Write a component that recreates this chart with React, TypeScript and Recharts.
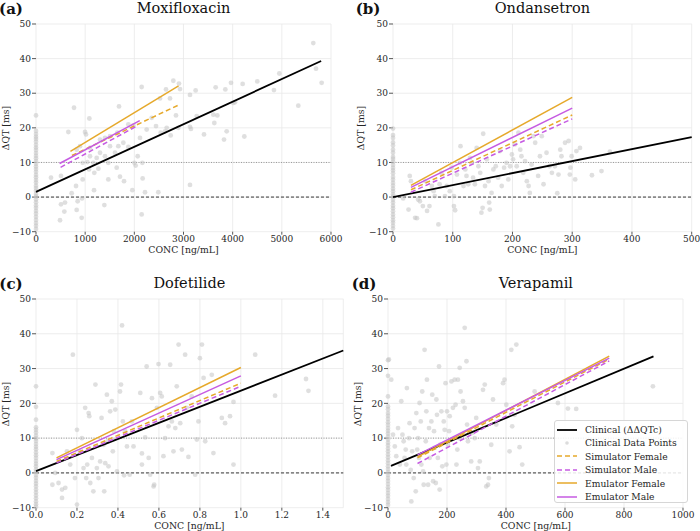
import React from "react";
import {
  ScatterChart,
  Scatter,
  XAxis,
  YAxis,
  CartesianGrid,
  ReferenceLine,
} from "recharts";

type Pt = [number, number];
type Fit = [string, number, number, number, number];

// ---- data ----
const yTicks = [-10, 0, 10, 20, 30, 40, 50];
const thresholds = [0, 10];

const moxiTicks = [0, 1000, 2000, 3000, 4000, 5000, 6000];
const ondTicks = [0, 100, 200, 300, 400, 500];
const dofTicks = [0, 0.2, 0.4, 0.6, 0.8, 1.0, 1.2, 1.4];
const verTicks = [0, 200, 400, 600, 800, 1000];

// placebo / zero-concentration observations (x = 0)
const moxiPlacebo = [23.6, 19.1, 18.2, 17.4, 16.8, 16.0, 15.1, 14.3, 13.6, 12.7, 11.9, 11.2, 10.4, 9.6, 8.8, 8.1, 7.3, 6.4, 5.7, 4.9, 4.2, 3.3, 2.6, 1.8, 0.9, 0.2, -0.7, -1.5, -2.4, -3.1, -4.0, -4.8, -5.7, -6.6, -7.5, -8.3, -9.2];
const ondPlacebo = [19.8, 17.9, 17.1, 15.8, 14.9, 13.7, 12.8, 11.6, 11.0, 10.2, 9.3, 8.4, 7.7, 6.9, 5.8, 5.0, 4.1, 3.3, 2.4, 1.7, 0.8, 0.1, -0.8, -1.6, -2.5, -3.2, -4.1, -5.0, -5.8, -6.7, -7.4, -8.3, -9.1];
const dofPlacebo = [24.9, 19.0, 15.3, 13.1, 12.4, 11.6, 10.7, 9.9, 9.2, 8.3, 7.5, 6.8, 5.9, 5.1, 4.3, 3.4, 2.6, 1.9, 1.0, 0.3, -0.6, -1.4, -2.3, -3.1, -3.9, -4.8, -5.6, -6.5, -7.3, -8.2, -9.0, -9.7];
const verPlacebo = [32.4, 27.9, 22.0, 19.1, 18.3, 17.2, 16.4, 15.5, 14.6, 13.8, 12.9, 12.1, 11.3, 10.4, 9.6, 8.7, 7.9, 7.0, 6.2, 5.3, 4.5, 3.6, 2.8, 1.9, 1.1, 0.2, -0.6, -1.5, -2.3, -3.2, -4.1, -4.9, -5.8, -6.6, -7.5, -8.4, -9.2];

const moxiPoints: Pt[] = [
  [773, 25.8], [658, 18.8], [1085, 22.7], [997, 18.8], [1017, 18.1], [1688, 26.2], [2149, 31.8],
  [2793, 33.6], [2908, 32.8], [2644, 31.1], [2725, 28.5], [2522, 28.5], [2847, 23.6], [3268, 23.4],
  [3247, 30.8], [3132, 29.5], [2929, 31.2], [3132, 20.3], [3152, 19.7], [3417, 18.1], [3607, 23.8],
  [3627, 21.4], [3654, 31.7], [3688, 23.6], [3851, 31.1], [3824, 16.6], [3878, 19.0], [3966, 33.0],
  [4013, 27.2], [4047, 27.4], [4203, 32.7], [4237, 17.5], [4501, 33.4], [4840, 30.9], [4949, 35.7],
  [5335, 26.4], [5640, 44.5], [5695, 37.1], [5810, 33.0], [3132, 3.5], [2217, 1.4], [2488, 1.4],
  [2149, -5.0], [1959, 2.0], [2169, 5.4], [2027, 9.1], [2000, 9.9], [2163, 9.9], [2068, 11.8],
  [1790, 4.6], [1708, 5.9], [1471, 5.1], [1390, -2.3], [1268, 8.2], [1180, 2.0], [1186, 7.0],
  [1078, 8.0], [949, 5.1], [929, -6.0], [936, -0.4], [827, -3.7], [847, -1.2], [725, 1.1],
  [814, 3.2], [590, -1.6], [576, -4.2], [508, -2.1], [488, -6.7], [305, 5.6], [508, 6.1],
  [1044, 10.1], [1098, 11.8], [1234, 11.3], [1302, 12.8], [1403, 11.8], [1505, 14.7], [1607, 12.8],
  [1675, 14.7], [1776, 15.7], [1878, 14.5], [1302, 16.6], [1403, 17.1], [1505, 17.6], [1654, 18.6],
  [1878, 21.0], [1980, 20.7], [2353, 22.9], [2441, 20.5], [2536, 18.6], [2624, 19.0], [2658, 20.0],
  [2739, 17.8], [2895, 20.0], [2251, 19.5], [827, 13.7], [895, 14.7], [1098, 14.2], [1166, 9.9],
  [1471, 9.9], [1641, 8.5], [949, 9.9], [2115, 17.1],
];

const ondPoints: Pt[] = [
  [17, -0.4], [26, -3.6], [28, 6.1], [30, 4.6], [37, -6.0], [40, -6.1], [42, -0.7], [45, -1.2],
  [50, -2.6], [54, 4.6], [57, -4.0], [61, -2.6], [65, 3.2], [68, 1.7], [70, 0.3], [76, -7.9],
  [78, 3.7], [81, 7.0], [87, 0.3], [90, 3.2], [95, 1.7], [98, 8.5], [102, 0.3], [102, -2.6],
  [104, -3.8], [107, 6.5], [112, 9.9], [113, 14.7], [118, 3.2], [121, 8.0], [123, 6.1], [126, 3.7],
  [129, 11.3], [132, 9.9], [134, 5.6], [137, 3.7], [140, 14.2], [143, 8.9], [146, 7.0], [148, -4.5],
  [151, 18.3], [150, -3.1], [154, 3.2], [157, 10.9], [160, 4.6], [161, -1.6], [162, -3.6], [165, 1.2],
  [168, 8.0], [172, 8.9], [176, 5.6], [179, 13.3], [182, 3.2], [186, 8.5], [190, 9.9], [193, 5.1],
  [196, 8.9], [199, 12.3], [201, 10.9], [204, 15.2], [207, 8.9], [210, 18.6], [213, 13.7], [215, 11.8],
  [218, 7.0], [221, 10.4], [224, 4.6], [227, 3.2], [229, 1.2], [232, 9.4], [235, 17.6], [238, 15.7],
  [243, 6.1], [246, 11.8], [249, 17.6], [252, 3.7], [257, 12.8], [262, 8.9], [266, 7.0], [271, 8.9],
  [275, 1.1], [277, 6.5], [280, 13.7], [282, 11.8], [288, 15.7], [294, 16.2], [296, 6.5], [297, 8.5],
  [299, 11.8], [305, 5.1], [313, 14.2], [307, 13.3], [333, 6.3], [349, 7.5], [363, 13.1],
];

const dofPoints: Pt[] = [
  [0.08, 5.7], [0.08, -3.4], [0.094, 0.0], [0.11, -2.9], [0.127, -7.2], [0.127, -4.8], [0.143, -4.3],
  [0.151, 6.2], [0.167, 2.4], [0.18, 34.0], [0.19, -1.5], [0.2, -9.1], [0.2, 12.4], [0.216, 6.2],
  [0.224, 10.0], [0.232, 1.4], [0.24, 18.7], [0.245, -1.5], [0.25, 2.4], [0.257, 17.2], [0.26, 16.3],
  [0.265, -2.9], [0.273, 4.3], [0.28, -5.3], [0.29, 25.4], [0.297, 1.4], [0.305, -1.5], [0.313, 3.3],
  [0.32, 15.8], [0.33, 8.1], [0.333, -5.3], [0.338, 2.8], [0.346, 22.5], [0.35, 9.1], [0.354, 1.9],
  [0.362, 17.7], [0.37, 20.6], [0.375, 6.2], [0.38, 12.0], [0.387, 18.2], [0.395, 0.4], [0.42, 42.4],
  [0.41, 23.4], [0.415, 25.4], [0.424, 14.8], [0.43, -0.7], [0.435, 12.0], [0.444, 7.6], [0.457, -0.5],
  [0.468, 14.8], [0.476, 7.6], [0.509, 23.0], [0.517, 5.6], [0.517, 2.4], [0.533, 10.2], [0.54, 30.6],
  [0.55, 4.3], [0.557, -0.5], [0.566, 21.5], [0.574, -3.9], [0.577, -3.4], [0.59, 18.7], [0.598, 31.3],
  [0.606, 23.0], [0.614, 22.0], [0.622, 4.8], [0.63, 10.0], [0.647, 13.4], [0.655, 31.1], [0.663, 14.8],
  [0.671, 6.2], [0.68, 12.9], [0.687, 24.9], [0.696, 36.9], [0.704, 14.3], [0.712, 6.7], [0.728, 34.0],
  [0.736, 18.7], [0.744, 4.6], [0.76, 22.0], [0.777, -0.5], [0.785, 9.6], [0.793, 14.8], [0.8, 33.0],
  [0.81, 36.9], [0.818, 27.3], [0.826, 9.1], [0.858, 28.2], [0.866, 5.7], [0.907, 15.8], [0.923, 14.3],
  [0.947, 16.3], [0.964, 20.4], [1.07, 34.0], [1.167, 22.2], [1.318, 27.0], [1.33, 23.6], [0.964, 2.4],
];

const verPoints: Pt[] = [
  [3, 32.6], [11, 26.8], [17, 11.0], [23, 7.6], [28, 4.8], [34, 12.9], [40, 2.4], [45, 20.6],
  [49, 11.0], [53, 9.1], [56, 4.3], [60, 6.7], [62, 2.4], [64, 24.4], [71, 10.0], [73, 14.3],
  [77, 0.9], [79, -8.2], [82, 6.2], [87, -1.5], [90, 12.9], [94, -5.3], [96, 17.2], [99, 6.7],
  [102, 10.0], [105, 4.3], [107, 20.1], [111, 14.8], [113, 2.4], [116, 23.4], [119, 0.4], [121, -3.4],
  [124, 35.4], [128, 9.1], [130, 17.7], [132, 26.8], [136, -3.4], [139, 12.9], [141, 4.3], [147, 14.8],
  [150, 22.5], [153, -2.4], [156, 12.0], [158, 7.2], [162, -2.9], [164, 21.1], [166, 16.7], [169, 4.3],
  [173, 30.6], [175, -4.8], [177, 8.1], [181, 17.7], [184, 1.9], [189, 14.8], [192, 12.4], [195, 25.8],
  [198, 2.4], [200, 17.7], [203, 8.1], [207, 12.0], [209, 16.3], [215, 26.3], [220, 18.7], [226, 26.8],
  [229, 19.6], [232, 2.4], [235, 6.7], [237, 26.8], [241, 10.0], [243, 30.2], [246, 23.4], [254, 20.6],
  [260, 18.7], [266, 32.1], [260, 41.7], [268, 13.9], [271, 9.1], [282, 3.3], [286, 11.5], [294, 10.0],
  [299, 15.8], [305, 1.4], [311, 3.3], [322, 23.9], [328, 25.4], [333, -3.9], [339, -3.4], [342, -1.5],
  [350, 8.1], [356, 21.1], [367, 13.9], [390, 25.8], [395, 26.8], [412, 6.2], [418, 35.4], [421, 13.4],
  [435, 36.9], [446, 7.4], [455, 2.4], [497, 23.4], [576, 20.1], [610, 18.5], [638, 18.4], [898, 24.9],
  [429, 16.7], [401, 19.6],
];

// linear fits: series, x start, y start, x end, y end
const moxiFits: Fit[] = [
  ["clinical", 0, 1.5, 5800, 39.3],
  ["simF", 730, 12.0, 2900, 26.6],
  ["simM", 500, 8.6, 2050, 20.5],
  ["emuF", 700, 13.2, 2900, 32.1],
  ["emuM", 480, 9.7, 2110, 22.1],
];
const ondFits: Fit[] = [
  ["clinical", 0, 0.0, 500, 17.3],
  ["simF", 30, 2.1, 300, 23.7],
  ["simM", 30, 1.4, 300, 22.6],
  ["emuF", 30, 3.4, 300, 28.8],
  ["emuM", 30, 2.8, 300, 25.7],
];
const dofFits: Fit[] = [
  ["clinical", 0, 0.5, 1.5, 35.2],
  ["simF", 0.1, 3.3, 1.0, 25.8],
  ["simM", 0.1, 2.9, 1.0, 24.9],
  ["emuF", 0.1, 4.3, 1.0, 30.3],
  ["emuM", 0.1, 3.8, 1.0, 27.9],
];
const verFits: Fit[] = [
  ["clinical", 10, 2.0, 900, 33.5],
  ["simF", 100, 4.3, 750, 32.7],
  ["simM", 100, 2.7, 750, 32.2],
  ["emuF", 100, 4.6, 750, 33.6],
  ["emuM", 100, 5.2, 750, 33.0],
];

// ---- styling ----
const ORANGE = "#E6A92B";
const PURPLE = "#C65BE2";
const FONT = '"DejaVu Serif", serif';
const INK = "#262626";

const seriesStyle: Record<string, { label: string; stroke: string; width: number; dash?: string }> = {
  clinical: { label: "Clinical (ΔΔQTc)", stroke: "#000000", width: 1.8 },
  simF: { label: "Simulator Female", stroke: ORANGE, width: 1.5, dash: "5 3" },
  simM: { label: "Simulator Male", stroke: PURPLE, width: 1.5, dash: "5 3" },
  emuF: { label: "Emulator Female", stroke: ORANGE, width: 1.5 },
  emuM: { label: "Emulator Male", stroke: PURPLE, width: 1.5 },
};

interface PanelDef {
  tag: string;
  title: string;
  plot: { left: number; top: number; right: number; bottom: number };
  xMax: number;
  xTicks: number[];
  xFmt: (v: number) => string;
  placebo: number[];
  points: Pt[];
  fits: Fit[];
  yLabelX: number;
  tagX: number;
  legend?: boolean;
}

const intFmt = (v: number) => String(v);
const panels: PanelDef[] = [
  { tag: "(a)", title: "Moxifloxacin", plot: { left: 36, top: 24.3, right: 331, bottom: 232 }, xMax: 6000, xTicks: moxiTicks, xFmt: intFmt, placebo: moxiPlacebo, points: moxiPoints, fits: moxiFits, yLabelX: 6, tagX: 11 },
  { tag: "(b)", title: "Ondansetron", plot: { left: 393, top: 24.3, right: 691.7, bottom: 232 }, xMax: 500, xTicks: ondTicks, xFmt: intFmt, placebo: ondPlacebo, points: ondPoints, fits: ondFits, yLabelX: 361, tagX: 368 },
  { tag: "(c)", title: "Dofetilide", plot: { left: 35.7, top: 299.3, right: 343, bottom: 508 }, xMax: 1.5, xTicks: dofTicks, xFmt: (v) => v.toFixed(1), placebo: dofPlacebo, points: dofPoints, fits: dofFits, yLabelX: 6, tagX: 11 },
  { tag: "(d)", title: "Verapamil", plot: { left: 388.3, top: 299.3, right: 683.3, bottom: 508 }, xMax: 1000, xTicks: verTicks, xFmt: intFmt, placebo: verPlacebo, points: verPoints, fits: verFits, yLabelX: 358, tagX: 364, legend: true },
];

const minus = (s: string) => s.replace("-", "\u2212");

const Dot = (p: any) => (
  <circle cx={p.cx} cy={p.cy} r={2.4} fill="#c4c4c4" fillOpacity={0.55} />
);
const NoMark = () => <g />;

const Y_W = 34;
const X_H = 20;
const M_TOP = 6;
const M_RIGHT = 16;

function Panel({ def }: { def: PanelDef }) {
  const { plot } = def;
  const pw = plot.right - plot.left;
  const ph = plot.bottom - plot.top;
  const dots = [
    ...def.placebo.map((y) => ({ x: 0, y })),
    ...def.points.map(([x, y]) => ({ x, y })),
  ];
  const cx = (plot.left + plot.right) / 2;
  const cy = (plot.top + plot.bottom) / 2;
  const tickStyle = { fontFamily: FONT, fontSize: 9, fill: INK };
  // keep the chart box inside the 700px figure
  const rightRoom = Math.min(M_RIGHT, 700 - plot.right);

  return (
    <>
      <div style={{ position: "absolute", left: plot.left - Y_W, top: plot.top - M_TOP }}>
        <ScatterChart
          width={pw + Y_W + rightRoom}
          height={ph + M_TOP + X_H}
          margin={{ top: M_TOP, right: rightRoom, bottom: 0, left: 0 }}
          style={{ overflow: "visible" }}
        >
          <CartesianGrid stroke="#e9e9e9" strokeWidth={0.8} />
          <XAxis
            type="number"
            dataKey="x"
            domain={[0, def.xMax]}
            ticks={def.xTicks}
            tickFormatter={def.xFmt}
            interval={0}
            height={X_H}
            axisLine={false}
            tickSize={3}
            tickMargin={1}
            tickLine={{ stroke: "#555" }}
            tick={tickStyle}
          />
          <YAxis
            type="number"
            dataKey="y"
            domain={[-10, 50]}
            ticks={yTicks}
            tickFormatter={(v: number) => minus(String(v))}
            interval={0}
            width={Y_W}
            axisLine={false}
            tickSize={4}
            tickMargin={1}
            tickLine={{ stroke: "#555" }}
            tick={tickStyle}
          />
          {thresholds.map((t) => (
            <ReferenceLine
              key={t}
              y={t}
              stroke={t === 0 ? "#222" : "#999"}
              strokeWidth={t === 0 ? 0.9 : 1}
              strokeDasharray={t === 0 ? "3 2" : "1 1.5"}
            />
          ))}
          <Scatter data={dots} shape={Dot} isAnimationActive={false} />
          {def.fits.map(([key, x0, y0, x1, y1]) => {
            const s = seriesStyle[key];
            return (
              <Scatter
                key={key}
                data={[{ x: x0, y: y0 }, { x: x1, y: y1 }]}
                fill={s.stroke}
                shape={NoMark}
                line={{ stroke: s.stroke, strokeWidth: s.width, strokeDasharray: s.dash }}
                isAnimationActive={false}
              />
            );
          })}
        </ScatterChart>
      </div>

      <div style={{ position: "absolute", left: cx, top: plot.top - 16, transform: "translate(-50%, -50%)", fontFamily: FONT, fontSize: 14.5, color: "#111", whiteSpace: "nowrap", lineHeight: 1 }}>
        {def.title}
      </div>
      <div style={{ position: "absolute", left: def.tagX, top: plot.top - 15.5, transform: "translate(-50%, -50%)", fontFamily: FONT, fontSize: 15, fontWeight: "bold", color: "#111", whiteSpace: "nowrap", lineHeight: 1.1 }}>
        {def.tag}
      </div>
      <div style={{ position: "absolute", left: cx, top: plot.bottom + 18, transform: "translate(-50%, -50%)", fontFamily: FONT, fontSize: 9.3, color: INK, whiteSpace: "nowrap", lineHeight: 1 }}>
        CONC [ng/mL]
      </div>
      <div style={{ position: "absolute", left: def.yLabelX, top: cy, transform: "translate(-50%, -50%) rotate(-90deg)", fontFamily: FONT, fontSize: 9.3, color: INK, whiteSpace: "nowrap", lineHeight: 1 }}>
        ΔQT [ms]
      </div>
      {def.legend && <LegendBox left={554} top={420} />}
    </>
  );
}

function LegendBox({ left, top }: { left: number; top: number }) {
  const rows = [
    { label: seriesStyle.clinical.label, key: "clinical" },
    { label: "Clinical Data Points", key: "points" },
    { label: seriesStyle.simF.label, key: "simF" },
    { label: seriesStyle.simM.label, key: "simM" },
    { label: seriesStyle.emuF.label, key: "emuF" },
    { label: seriesStyle.emuM.label, key: "emuM" },
  ];
  return (
    <div
      style={{
        position: "absolute",
        left,
        top,
        width: 134,
        height: 83,
        boxSizing: "border-box",
        background: "rgba(255,255,255,0.85)",
        border: "1px solid #d6d6d6",
        borderRadius: 3,
        padding: "2px 0 0 0",
      }}
    >
      {rows.map((r) => {
        const s = seriesStyle[r.key];
        return (
          <div key={r.key} style={{ display: "flex", alignItems: "center", height: 13.4 }}>
            <svg width={30} height={10} style={{ flex: "none" }}>
              {s ? (
                <line x1={2} x2={22} y1={5} y2={5} stroke={s.stroke} strokeWidth={s.width} strokeDasharray={s.dash} />
              ) : (
                <circle cx={12} cy={5} r={1.8} fill="#c4c4c4" fillOpacity={0.6} />
              )}
            </svg>
            <span style={{ fontFamily: FONT, fontSize: 9.2, color: INK, whiteSpace: "nowrap", lineHeight: 1 }}>{r.label}</span>
          </div>
        );
      })}
    </div>
  );
}

export default function App() {
  return (
    <div style={{ position: "absolute", left: 0, top: 0, width: 700, height: 531, background: "#fff", overflow: "hidden" }}>
      {panels.map((p) => (
        <Panel key={p.tag} def={p} />
      ))}
    </div>
  );
}
